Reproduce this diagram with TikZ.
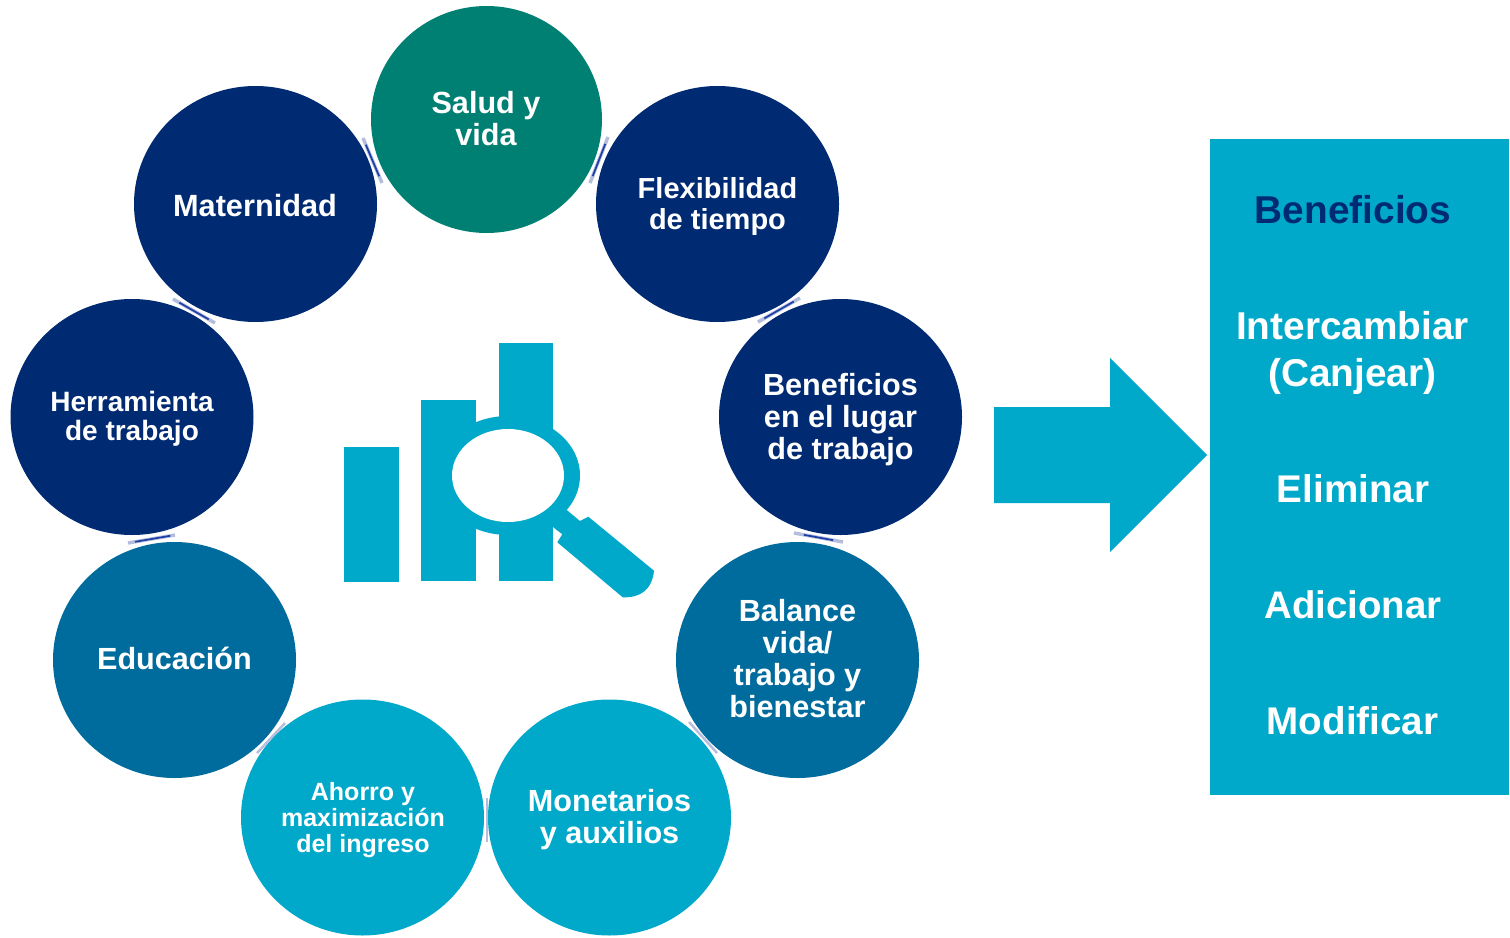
\documentclass[tikz,border=0pt]{standalone}
\usepackage{fontspec}
\setmainfont{Liberation Sans}
\usetikzlibrary{shapes.geometric,calc}
\definecolor{navyb}{HTML}{002B73}
\definecolor{tealb}{HTML}{007F73}
\definecolor{midb}{HTML}{006C9E}
\definecolor{lightb}{HTML}{00A9C9}
\definecolor{barb}{HTML}{1F3FA8}
\definecolor{paleb}{HTML}{B4BEDC}
\newcommand{\pxfont}[2]{\bfseries\fontsize{\fpeval{#1*0.75}}{\fpeval{#2*0.75}}\selectfont}
\tikzset{
  x=0.75pt,y=-0.75pt,
  circ/.style={ellipse,minimum width=182.25pt,minimum height=177pt,inner sep=0pt,align=center,text=white},
  lbl/.style={align=center,text=white,inner sep=0pt},
  pale/.style={draw=paleb,line width=2.6pt},
  dark/.style={draw=barb,line width=1.3pt},
  iconfill/.style={fill=lightb,draw=none}
}
\begin{document}
\begin{tikzpicture}
\useasboundingbox (0,0) rectangle (1510,938);
\fill[white] (0,0) rectangle (1510,938);
% connector ends
\coordinate (c1a) at (363,138); \coordinate (c1b) at (382,183);
\coordinate (c2a) at (590,183); \coordinate (c2b) at (608,137);
\coordinate (c3a) at (758,322); \coordinate (c3b) at (800,298);
\coordinate (c4a) at (794,533); \coordinate (c4b) at (843,542);
\coordinate (c5a) at (689,722); \coordinate (c5b) at (717,753);
\coordinate (c6a) at (487,798); \coordinate (c6b) at (487,842);
\coordinate (c7a) at (257,753); \coordinate (c7b) at (285,723);
\coordinate (c8a) at (128,543); \coordinate (c8b) at (175,535);
\coordinate (c9a) at (173,299); \coordinate (c9b) at (215,323);
% circles
\node[circ,fill=tealb,minimum width=173.25pt,minimum height=170.25pt] (salud) at (486.5,119.5) {};
\node[circ,fill=navyb] (flex) at (717.5,204) {};
\node[circ,fill=navyb] (mat) at (255.5,204) {};
\node[circ,fill=navyb] (herr) at (132,417) {};
\node[circ,fill=navyb] (ben) at (840.5,417) {};
\node[circ,fill=midb] (edu) at (174.5,660) {};
\node[circ,fill=midb] (bal) at (797.5,660) {};
\node[circ,fill=lightb] (aho) at (362.5,817.5) {};
\node[circ,fill=lightb] (mon) at (609.5,817.5) {};
% texts
\node[lbl,font=\pxfont{30.6}{32}] (tsalud) at (486,119) {Salud y\\vida};
\node[lbl,font=\pxfont{29}{31}] (tflex) at (717.5,206.5) {Flexibilidad\\de tiempo};
\node[lbl,font=\pxfont{30.7}{32}] (tmat) at (255,206) {Maternidad};
\node[lbl,font=\pxfont{28}{29}] (therr) at (132,418.5) {Herramienta\\de trabajo};
\node[lbl,font=\pxfont{30.6}{32}] (tben) at (840.5,420) {Beneficios\\en el lugar\\de trabajo};
\node[lbl,font=\pxfont{30.6}{32}] (tedu) at (174.5,658) {Educación};
\node[lbl,font=\pxfont{30.6}{32}] (tbal) at (797.5,659) {Balance\\vida/\\trabajo y\\bienestar};
\node[lbl,font=\pxfont{25}{26}] (taho) at (363,820) {Ahorro y\\maximización\\del ingreso};
\node[lbl,font=\pxfont{30.6}{32}] (tmon) at (609.5,820) {Monetarios\\y auxilios};
% small bars between the circles
\foreach \i/\s/\e in {1/0.15/0.85,2/0.15/0.85,3/0.15/0.85,4/0.2/0.8,8/0.15/0.9,9/0.15/0.85}{
  \draw[pale] (c\i a) -- (c\i b);
  \draw[dark] ($(c\i a)!\s!(c\i b)$) -- ($(c\i a)!\e!(c\i b)$);
}
\draw[pale,line width=1.8pt] (c5a) -- (c5b);
\draw[pale,line width=1.8pt] (c6a) -- (c6b);
\draw[pale,line width=1.8pt] (c7a) -- (c7b);
% centre icon
\fill[iconfill] (344,447) rectangle (399,582);
\fill[iconfill] (421,400) rectangle (476,581);
\fill[iconfill] (499,343) rectangle (553,581);
\fill[iconfill] (508,475.5) ellipse [x radius=72,y radius=59.5];
\fill[iconfill] (566.7,510) -- (580,521) -- (588.3,516.7) -- (654,570.7)
  .. controls (652,590) and (640,598) .. (622.7,597.3)
  -- (557.3,542.3) -- (562.3,534.3) -- (553.3,527.3) -- (545,505) -- cycle;
\fill[white] (508,475.5) ellipse [x radius=56,y radius=46.5];
% arrow
\fill[lightb] (994,407) -- (1110,407) -- (1110,358) -- (1207,455) -- (1110,552) -- (1110,503) -- (994,503) -- cycle;
% panel
\fill[lightb] (1210,139) rectangle (1509,795);
\node[lbl,text=navyb,font=\pxfont{38.8}{47}] (p1) at (1353,210) {Beneficios};
\node[lbl,font=\pxfont{38.8}{47}] (p2) at (1352.5,353) {Intercambiar\\(Canjear)};
\node[lbl,font=\pxfont{38.6}{47}] (p3) at (1353,489) {Eliminar};
\node[lbl,font=\pxfont{38.4}{47}] (p4) at (1353,605) {Adicionar};
\node[lbl,font=\pxfont{38.6}{47}] (p5) at (1352.5,721) {Modificar};
\end{tikzpicture}
\end{document}
